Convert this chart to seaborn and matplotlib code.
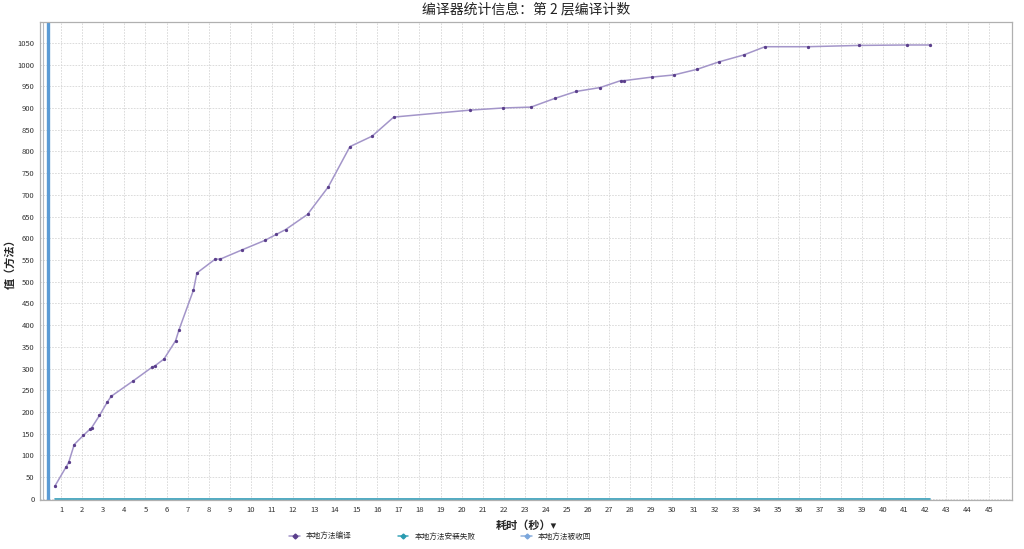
import matplotlib
matplotlib.use("Agg")
import matplotlib.pyplot as plt
import seaborn as sns
import pandas as pd
from matplotlib.lines import Line2D

# Data: elapsed seconds vs. compiled method count
elapsed_sec = [0.71, 1.23, 1.36, 1.62, 2.05, 2.38, 2.45, 2.82, 3.18, 3.37,
               4.43, 5.31, 5.44, 5.88, 6.43, 6.59, 7.28, 7.44, 8.31, 8.55,
               9.57, 10.66, 11.21, 11.65, 12.69, 13.67, 14.70, 15.75, 16.78, 20.39,
               21.98, 23.29, 24.42, 25.43, 26.57, 27.55, 27.72, 29.01, 30.07, 31.17,
               32.20, 33.38, 34.39, 36.42, 38.87, 41.12, 42.23]
native_compiled = [30, 73, 84, 125, 146, 161, 164, 192, 222, 236,
                   272, 303, 306, 322, 364, 389, 481, 520, 552, 552,
                   573, 595, 609, 620, 655, 718, 811, 835, 879, 895,
                   900, 902, 922, 938, 947, 963, 963, 971, 976, 989,
                   1006, 1022, 1041, 1041, 1044, 1045, 1045]
install_failed = [0] * len(elapsed_sec)
reclaimed = [0] * len(elapsed_sec)

series_names = ["本地方法编译", "本地方法安装失败", "本地方法被收回"]
y_ticks = list(range(0, 1051, 50))
x_ticks = list(range(1, 46))

sns.set_style("whitegrid")
plt.rcParams['font.family'] = ['Noto Sans CJK SC', 'DejaVu Sans']

fig = plt.figure(figsize=(10.24, 5.49), dpi=100)
ax = fig.add_axes([0.0391, 0.0893, 0.949, 0.8707])

df = pd.DataFrame({
    'x': elapsed_sec * 3,
    'y': native_compiled + install_failed + reclaimed,
    'series': [series_names[0]] * len(elapsed_sec)
              + [series_names[1]] * len(elapsed_sec)
              + [series_names[2]] * len(elapsed_sec),
})

line_colors = {series_names[0]: '#a395c9', series_names[1]: '#3aa6b9', series_names[2]: '#8fb2de'}
marker_colors = {series_names[0]: '#5b3f8c', series_names[1]: '#2a9bb0', series_names[2]: '#7aa6dc'}
marker_sizes = {series_names[0]: 1.6, series_names[1]: 0, series_names[2]: 0}

# draw reversed so the zero-series lines sit under the main curve
for name in series_names[::-1]:
    sub = df[df['series'] == name]
    sns.lineplot(data=sub, x='x', y='y', ax=ax, color=line_colors[name],
                 linewidth=1.1, marker='o', markersize=marker_sizes[name],
                 markerfacecolor=marker_colors[name], markeredgecolor=marker_colors[name],
                 legend=False, estimator=None, sort=False)

# left axis decoration (double grey rule + blue bar)
ax.axvline(0.14, color='#b8bcc2', linewidth=0.8)
ax.axvline(0.36, color='#5b9bd5', linewidth=2.4)

ax.set_xlim(0, 46.1)
ax.set_ylim(-2.5, 1098)
ax.set_xticks(x_ticks)
ax.set_yticks(y_ticks)
ax.tick_params(axis='both', labelsize=5.5, length=0, pad=4, colors='#333333')
ax.grid(True, color='#d6d6d6', linestyle=(0, (2, 1.5)), linewidth=0.6)
for side in ['top', 'right', 'bottom', 'left']:
    ax.spines[side].set_color('#b0b0b0')
    ax.spines[side].set_linewidth(0.9)

ax.set_title("编译器统计信息：第 2 层编译计数", fontsize=10, color='#222222', pad=6)
ax.set_xlabel("耗时（秒）▾", fontsize=8, fontweight='bold', labelpad=4)
ax.set_ylabel("值（方法）", fontsize=8, fontweight='bold')
ax.yaxis.set_label_coords(-0.024, 0.5)

handles = [Line2D([0], [0], color=line_colors[n], linewidth=1.1, marker='D', markersize=2.5,
                  markerfacecolor=marker_colors[n], markeredgecolor=marker_colors[n])
           for n in series_names]
fig.legend(handles, series_names,
           loc='center', bbox_to_anchor=(0.43, 0.022), ncol=3, frameon=False,
           fontsize=5.5, columnspacing=6, handlelength=1.4)

fig.savefig('out.png', dpi=100)
